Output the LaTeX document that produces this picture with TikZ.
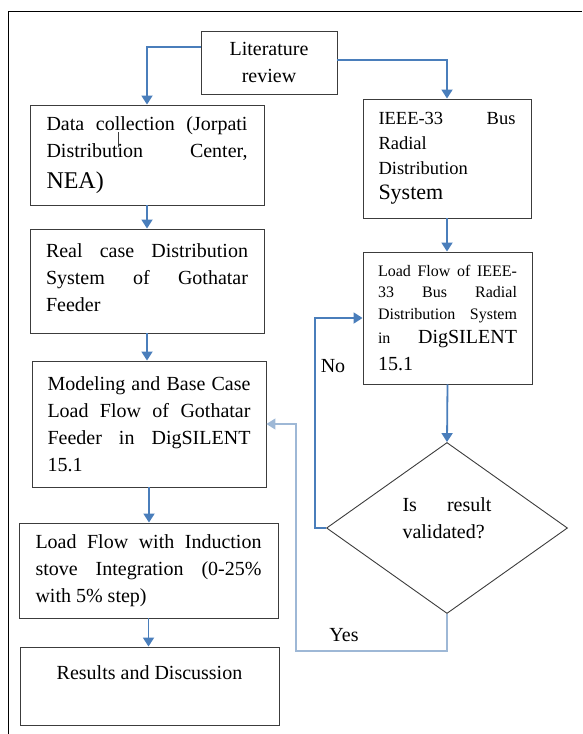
\documentclass[tikz,border=0pt]{standalone}
\usepackage{fontspec}
\setmainfont{Liberation Serif}
\usepackage{tikz}
\usetikzlibrary{arrows.meta,shapes.geometric}
\definecolor{flowblue}{RGB}{74,126,187}
\definecolor{yesblue}{RGB}{158,184,214}
\definecolor{boxgray}{RGB}{60,60,60}

\begin{document}
\begin{tikzpicture}[x=1pt,y=-1pt,>={Triangle[width=11pt,length=9pt]}]
\tikzstyle{box}=[draw=boxgray,line width=0.9pt,rectangle,inner sep=0pt,align=justify,font=\fontsize{20}{27}\selectfont];
\tikzstyle{flow}=[->,draw=flowblue,line width=1.8pt];
\tikzstyle{back}=[->,draw=yesblue,line width=1.4pt];
\useasboundingbox (0,0) rectangle (582,734);
% page frame
    \draw[line width=0.8pt] (582,11) -- (8,11) -- (8,734);
% left column
%   nodes
    \node[box,align=center,minimum width=136pt,minimum height=63pt] (lit) at (269,62.5) {Literature\\review};
    \node[box,minimum width=234pt,minimum height=100pt,text width=201pt] (data) at (147,155)
        {Data collection (Jorpati\linebreak Distribution Center,\linebreak {\fontsize{24}{29}\selectfont\rule{0pt}{27pt}NEA)}};
    \node[box,minimum width=234pt,minimum height=104pt,text width=202pt] (real) at (147,281)
        {Real case Distribution\linebreak System of Gothatar\linebreak Feeder\rule[-7pt]{0pt}{1pt}};
    \node[box,minimum width=234pt,minimum height=126pt,text width=203pt] (model) at (149,424)
        {Modeling and Base Case\linebreak Load Flow of Gothatar\linebreak Feeder in DigSILENT\linebreak 15.1};
    \node[box,minimum width=259pt,minimum height=95pt,text width=226pt] (lfind) at (148.5,570.5)
        {Load Flow with Induction\linebreak stove Integration (0-25\%\linebreak with 5\% step)};
    \node[box,align=center,minimum width=259pt,minimum height=78pt] (results) at (149.5,686)
        {Results and Discussion\\\mbox{}};
% right column
    \node[box,minimum width=168pt,minimum height=119pt,text width=137pt,font=\fontsize{18.5}{25}\selectfont] (ieee) at (447,158.5)
        {IEEE-33 Bus\linebreak Radial\newline Distribution\newline {\fontsize{22}{27}\selectfont\rule{0pt}{22pt}System}};
    \node[box,minimum width=169pt,minimum height=132pt,text width=139pt,font=\fontsize{16}{21.5}\selectfont] (lfieee) at (447.5,318)
        {Load Flow of IEEE-\linebreak 33 Bus Radial\linebreak Distribution System\linebreak in {\fontsize{20}{24}\selectfont\rule{0pt}{20pt}DigSILENT}\linebreak {\fontsize{20}{24}\selectfont\rule{0pt}{22pt}15.1}};
    \node[box,diamond,minimum width=241pt,minimum height=171pt,text width=89pt] (valid) at (447,528)
        {Is result\linebreak validated?\rule[-19pt]{0pt}{1pt}};
    \node[font=\fontsize{20}{24}\selectfont] (no) at (333,366) {No};
    \node[font=\fontsize{20}{24}\selectfont] (yes) at (344,635) {Yes};
    \coordinate (noturn) at (315,528);
    \coordinate (yesturn) at (296,651);
%   edges
    \draw[flow] ([yshift=15.5pt]lit.west) -| (data.north);
    \draw[flow] ([yshift=2.5pt]lit.east) -| (ieee.north);
    \draw[flow] (data.south) -- (real.north);
    \draw[flow] (real.south) -- (real.south |- model.north);
    \draw[flow] (model.south) -- (model.south |- lfind.north);
    \draw[flow] (lfind.south) -- (lfind.south |- results.north);
    \draw[flow] (ieee.south) -- (ieee.south |- lfieee.north);
    \draw[flow] (lfieee.south) -- (valid.north);
    \draw[flow] (valid.west) -- (noturn) |- (lfieee.west);
    \draw[back] (valid.south) |- (yesturn) |- (model.east);
    \draw[boxgray,line width=0.5pt] (118,132) -- (118,147);
\end{tikzpicture}
\end{document}
